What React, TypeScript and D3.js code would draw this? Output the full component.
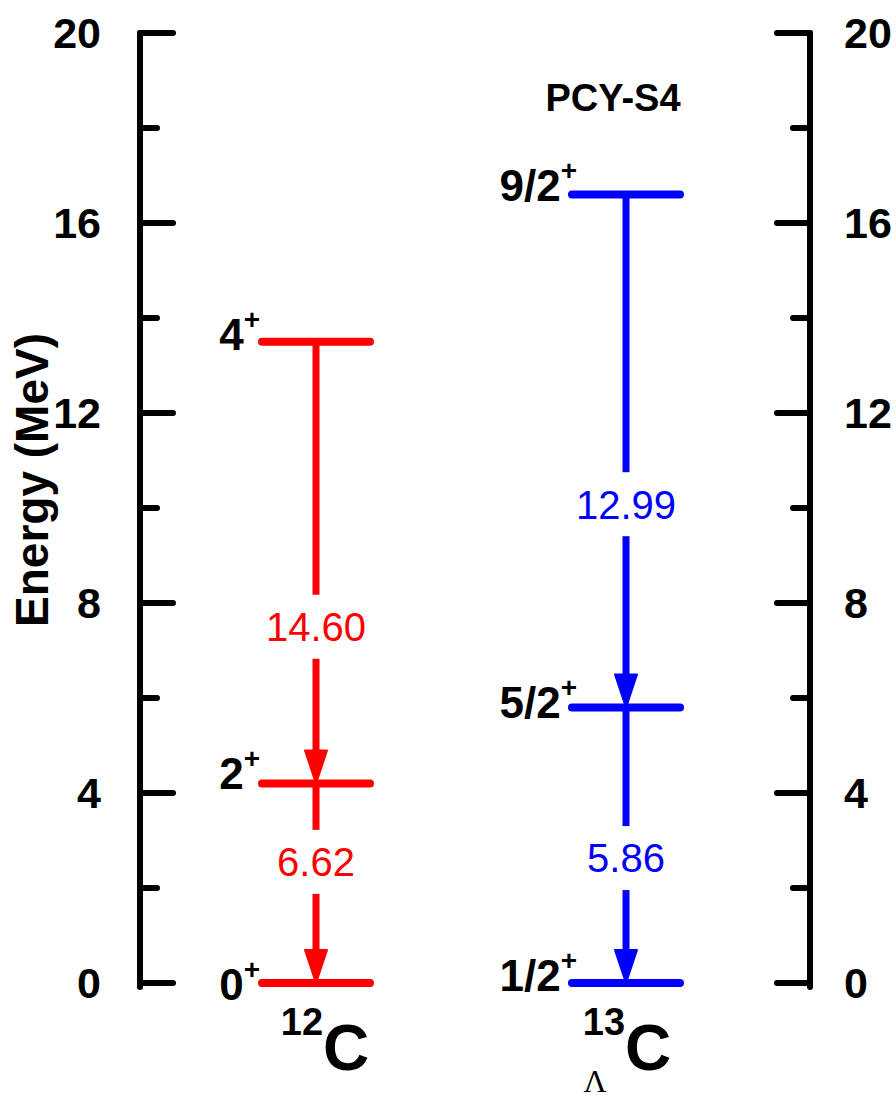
import * as d3 from "d3";

// energy axis
const majorTicks = [0, 4, 8, 12, 16, 20];
const minorTicks = [2, 6, 10, 14, 18];

// nuclei (columns)
const nuclei = ["12C", "13C"];
const nucleusMass = ["12", "13"];
const nucleusHyper = [false, true];
const nucleusColor = ["#ff0000", "#0000ff"];

// 12C levels
const c12Energy = [0, 4.2, 13.5];
const c12Spin = ["0", "2", "4"];
// 12C transitions (upper -> lower level index) and B(E2) labels
const c12From = [1, 2];
const c12To = [0, 1];
const c12Value = ["6.62", "14.60"];
const c12ValueAt = [2.55, 7.5];

// 13ΛC levels
const c13Energy = [0, 5.8, 16.6];
const c13Spin = ["1/2", "5/2", "9/2"];
const c13From = [1, 2];
const c13To = [0, 1];
const c13Value = ["5.86", "12.99"];
const c13ValueAt = [2.63, 10.08];

const modelLabel = "PCY-S4";

const FONT = "'Liberation Sans', Arial, Helvetica, sans-serif";

export default function App() {
  const width = 896;
  const height = 1099;

  const y = d3.scaleLinear().domain([0, 20]).range([983, 33]);
  const x = d3.scalePoint<string>().domain(nuclei).range([316, 626]);

  const leftAxisX = 140;
  const rightAxisX = 810;
  const halfLevel = 54;
  const arrowLen = 33;
  const arrowHalf = 11;

  // small per-label nudges (pixels), as in the original figure
  const spinDy = [
    [17, 5, 8],
    [8, 10, 6],
  ];
  const nameDx = [9, 1];

  const columns = [
    { energy: c12Energy, spin: c12Spin, from: c12From, to: c12To, value: c12Value, at: c12ValueAt },
    { energy: c13Energy, spin: c13Spin, from: c13From, to: c13To, value: c13Value, at: c13ValueAt },
  ];

  const axis = (ax: number, dir: number, labelAnchor: string, labelX: number) => (
    <g>
      <line x1={ax} x2={ax} y1={y(20)} y2={y(0) + 4} stroke="#000" strokeWidth={6} strokeLinecap="round" />
      {majorTicks.map((t) => (
        <g key={"M" + t}>
          <line x1={ax} x2={ax + dir * 33} y1={y(t)} y2={y(t)} stroke="#000" strokeWidth={6} strokeLinecap="round" />
          <text
            x={labelX}
            y={y(t)}
            dy="0.36em"
            textAnchor={labelAnchor}
            fontFamily={FONT}
            fontWeight="bold"
            fontSize={43}
            fill="#000"
          >
            {t}
          </text>
        </g>
      ))}
      {minorTicks.map((t) => (
        <line key={"m" + t} x1={ax} x2={ax + dir * 17} y1={y(t)} y2={y(t)} stroke="#000" strokeWidth={6} strokeLinecap="round" />
      ))}
    </g>
  );

  return (
    <svg width={width} height={height} style={{ position: "absolute", left: 0, top: 0, background: "#fff" }}>
      <rect width={width} height={height} fill="#fff" />
      {axis(leftAxisX, 1, "end", 101)}
      {axis(rightAxisX, -1, "start", 844)}

      <text
        transform={`translate(48, 480) rotate(-90)`}
        textAnchor="middle"
        fontFamily={FONT}
        fontWeight="bold"
        fontSize={46}
        fill="#000"
      >
        Energy (MeV)
      </text>

      <text x={613} y={97} dy="0.36em" textAnchor="middle" fontFamily={FONT} fontWeight="bold" fontSize={38} fill="#000">
        {modelLabel}
      </text>

      {columns.map((col, ci) => {
        const cx = x(nuclei[ci]) as number;
        const color = nucleusColor[ci];
        return (
          <g key={nuclei[ci]}>
            {/* transitions */}
            {col.from.map((f, ti) => {
              const y1 = y(col.energy[f]);
              const y2 = y(col.energy[col.to[ti]]);
              const ly = y(col.at[ti]);
              return (
                <g key={"t" + ti}>
                  <line x1={cx} x2={cx} y1={y1} y2={y2 - arrowLen + 2} stroke={color} strokeWidth={7} />
                  <path
                    d={`M${cx - arrowHalf},${y2 - arrowLen} L${cx + arrowHalf},${y2 - arrowLen} L${cx},${y2} Z`}
                    fill={color}
                    stroke={color}
                    strokeWidth={2}
                    strokeLinejoin="round"
                  />
                  <rect x={cx - 12} y={ly - 32} width={24} height={64} fill="#fff" />
                  <text x={cx} y={ly} dy="0.36em" textAnchor="middle" fontFamily={FONT} fontSize={40} fill={color}>
                    {col.value[ti]}
                  </text>
                </g>
              );
            })}
            {/* levels */}
            {col.energy.map((e, li) => (
              <g key={"l" + li}>
                <line
                  x1={cx - halfLevel}
                  x2={cx + halfLevel}
                  y1={y(e)}
                  y2={y(e)}
                  stroke={color}
                  strokeWidth={8}
                  strokeLinecap="round"
                />
                <text
                  x={cx - halfLevel + (ci === 1 ? 5 : -2)}
                  y={y(e) + spinDy[ci][li]}
                  textAnchor="end"
                  fontFamily={FONT}
                  fontWeight="bold"
                  fontSize={44}
                  fill="#000"
                >
                  {col.spin[li]}
                  <tspan dy={-21} fontSize={28}>
                    +
                  </tspan>
                </text>
              </g>
            ))}
            {/* nucleus name */}
            <text
              x={cx + nameDx[ci]}
              y={1070}
              textAnchor="middle"
              fontFamily={FONT}
              fontWeight="bold"
              fill="#000"
            >
              <tspan fontSize={38} dy={-35}>
                {nucleusMass[ci]}
              </tspan>
              <tspan fontSize={64} dy={35}>
                C
              </tspan>
            </text>
            {nucleusHyper[ci] && (
              <text x={cx - 31} y={1092} textAnchor="middle" fontFamily="'Liberation Serif', 'Times New Roman', serif" fontSize={32} fill="#000">
                Λ
              </text>
            )}
          </g>
        );
      })}
    </svg>
  );
}
